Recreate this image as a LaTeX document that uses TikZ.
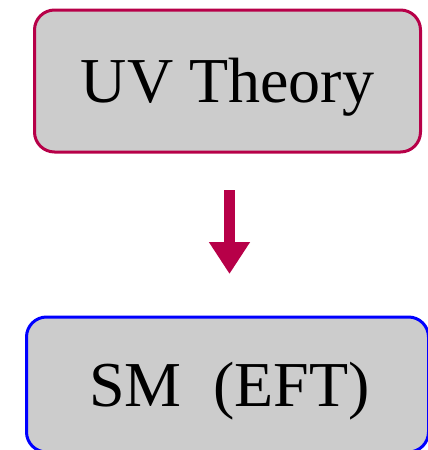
\documentclass[tikz,border=0pt]{standalone}
\usepackage{fontspec}
\setmainfont{Liberation Serif}
\usetikzlibrary{arrows.meta}
\definecolor{crim}{RGB}{183,0,72}
\definecolor{boxgray}{RGB}{204,204,204}
\definecolor{bblue}{RGB}{0,0,255}
\tikzset{
  box/.style={rectangle, rounded corners=20pt, fill=boxgray, line width=3pt,
    inner sep=0pt, outer sep=0pt, font=\fontsize{64}{64}\selectfont,
    text height=43pt, text depth=0pt},
  flowarrow/.style={draw=crim, line width=11pt,
    -{Triangle[width=39pt,length=32pt,fill=crim]}}
}
\begin{document}
\begin{tikzpicture}[x=1pt,y=-1pt]
\useasboundingbox (0,0) rectangle (428,450);
\clip (0,0) rectangle (428,450);
\node[box, draw=crim, minimum width=386pt, minimum height=142pt] (uv) at (227.5,81) {UV Theory};
\node[box, draw=bblue, minimum width=402pt, minimum height=135pt] (sm) at (227.5,384.5) {\hspace{4pt}SM\ \ (EFT)};
\coordinate (a1) at (229.5,190);
\coordinate (a2) at (229.5,274);
\draw[flowarrow] (a1) -- (a2);
\end{tikzpicture}
\end{document}
